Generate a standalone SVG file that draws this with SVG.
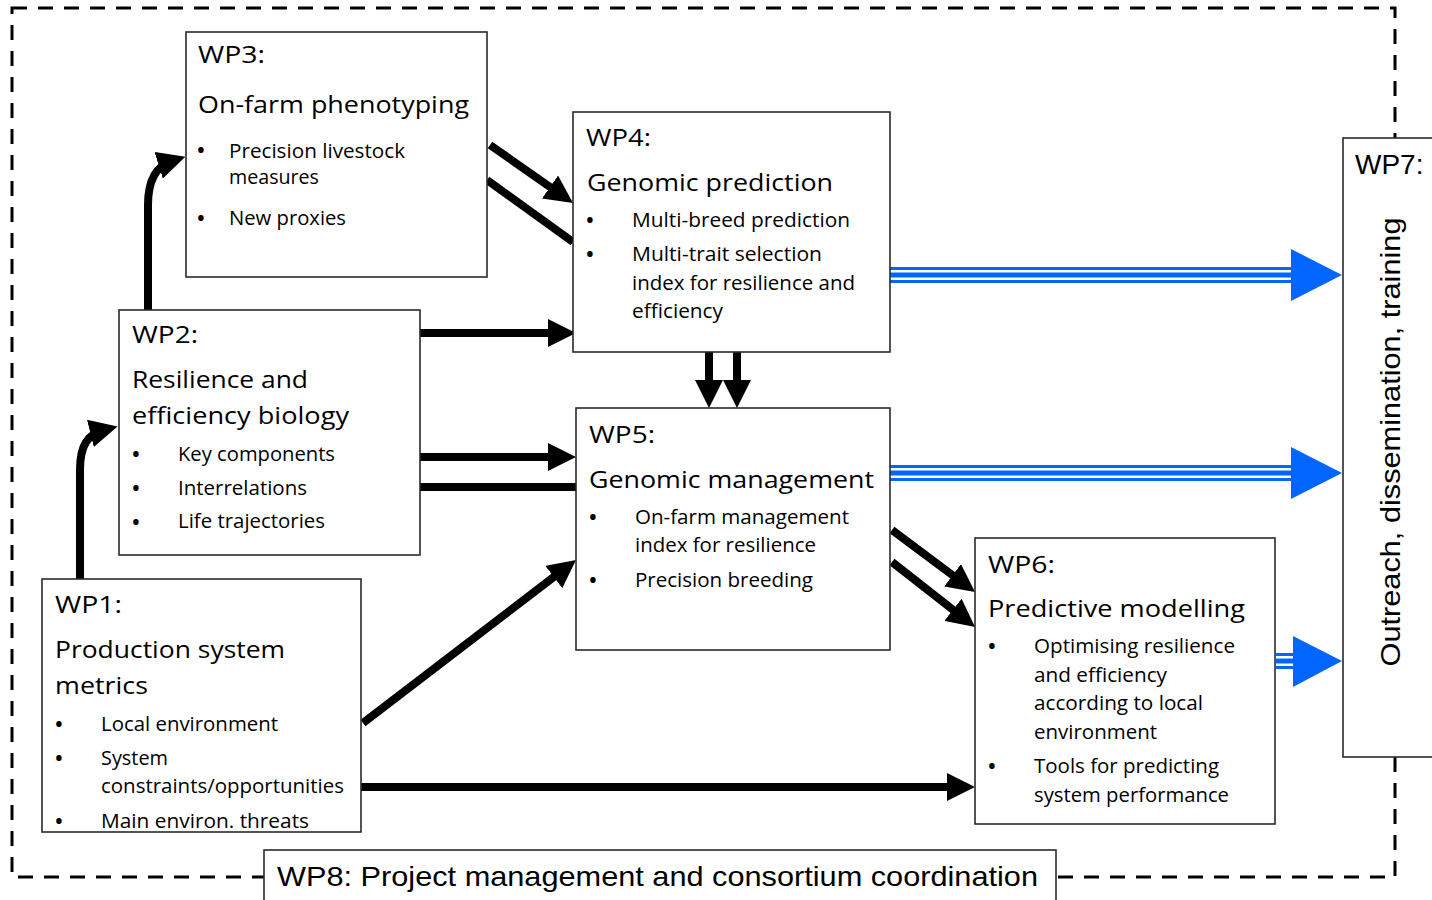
<svg xmlns="http://www.w3.org/2000/svg" width="1432" height="900" viewBox="0 0 1432 900">
<defs>
<style>
.box{fill:#fff;stroke:#2a2a2a;stroke-width:1.6}
.t{font-family:"Open Sans","Noto Sans",sans-serif;fill:#000}
.h{font-size:23.5px}
.b{font-size:19.5px}
.d{font-family:"Open Sans","Noto Sans",sans-serif;fill:#000;font-size:26px}
.a{font-family:"Liberation Sans",Arial,sans-serif;font-size:28px;fill:#000}
.k{stroke:#000;stroke-width:8;fill:none}
.bl1{stroke:#0066ff;stroke-width:16;fill:none}
.bl2{stroke:#fff;stroke-width:10;fill:none}
.bl3{stroke:#0066ff;stroke-width:5;fill:none}
.bh{fill:#0066ff}
</style>
<marker id="ah" markerUnits="userSpaceOnUse" viewBox="0 0 28 28" markerWidth="28" markerHeight="28" refX="14" refY="14" orient="auto">
<path d="M0,0 L28,14 L0,28 z" fill="#000"/>
</marker>
</defs>
<rect width="1432" height="900" fill="#fff"/>
<rect x="12" y="8" width="1383" height="869" fill="none" stroke="#000" stroke-width="3" stroke-dasharray="15 11"/>

<g id="connectors">
<path class="k" d="M80,579 L80,470 C80,445 88,434 104,430" marker-end="url(#ah)"/>
<path class="k" d="M148,310 L148,205 C148,180 156,166 172,161" marker-end="url(#ah)"/>
<line class="k" x1="490" y1="145" x2="561.5" y2="195" marker-end="url(#ah)"/>
<line class="k" x1="487" y1="180" x2="573" y2="242"/>
<line class="k" x1="420" y1="333" x2="562" y2="333" marker-end="url(#ah)"/>
<line class="k" x1="420" y1="457" x2="562" y2="457" marker-end="url(#ah)"/>
<line class="k" x1="420" y1="487" x2="576" y2="487"/>
<line class="k" x1="709" y1="352" x2="709" y2="394" marker-end="url(#ah)"/>
<line class="k" x1="737" y1="352" x2="737" y2="394" marker-end="url(#ah)"/>
<line class="k" x1="363" y1="723" x2="564.9" y2="568.5" marker-end="url(#ah)"/>
<line class="k" x1="361" y1="787" x2="961" y2="787" marker-end="url(#ah)"/>
<line class="k" x1="892" y1="530" x2="963.8" y2="583.6" marker-end="url(#ah)"/>
<line class="k" x1="892" y1="562" x2="964" y2="618.4" marker-end="url(#ah)"/>
<g>
<line class="bl1" x1="890" y1="275" x2="1294" y2="275"/>
<line class="bl2" x1="890" y1="275" x2="1294" y2="275"/>
<line class="bl3" x1="890" y1="275" x2="1294" y2="275"/>
<polygon class="bh" points="1291,249 1342,275 1291,301"/>
<line class="bl1" x1="890" y1="473" x2="1294" y2="473"/>
<line class="bl2" x1="890" y1="473" x2="1294" y2="473"/>
<line class="bl3" x1="890" y1="473" x2="1294" y2="473"/>
<polygon class="bh" points="1291,447 1342,473 1291,499"/>
<line class="bl1" x1="1276" y1="661" x2="1296" y2="661"/>
<line class="bl2" x1="1276" y1="661" x2="1296" y2="661"/>
<line class="bl3" x1="1276" y1="661" x2="1296" y2="661"/>
<polygon class="bh" points="1293,636 1342,661 1293,687"/>
</g>
</g>

<g id="wp3">
<rect class="box" x="186" y="32" width="301" height="245"/>
<text class="t h" x="198" y="63" textLength="67" lengthAdjust="spacingAndGlyphs">WP3:</text>
<text class="t h" x="198" y="113" textLength="271" lengthAdjust="spacingAndGlyphs">On-farm phenotyping</text>
<text class="d" x="196" y="159">•</text>
<text class="t b" x="229" y="158" textLength="176" lengthAdjust="spacingAndGlyphs">Precision livestock</text>
<text class="t b" x="229" y="184" textLength="90" lengthAdjust="spacingAndGlyphs">measures</text>
<text class="d" x="196" y="227">•</text>
<text class="t b" x="229" y="225" textLength="117" lengthAdjust="spacingAndGlyphs">New proxies</text>
</g>

<g id="wp4">
<rect class="box" x="573" y="112" width="317" height="240"/>
<text class="t h" x="586" y="146" textLength="65" lengthAdjust="spacingAndGlyphs">WP4:</text>
<text class="t h" x="587" y="191" textLength="246" lengthAdjust="spacingAndGlyphs">Genomic prediction</text>
<text class="d" x="585" y="229">•</text>
<text class="t b" x="632" y="227" textLength="218" lengthAdjust="spacingAndGlyphs">Multi-breed prediction</text>
<text class="d" x="585" y="263">•</text>
<text class="t b" x="632" y="261" textLength="190" lengthAdjust="spacingAndGlyphs">Multi-trait selection</text>
<text class="t b" x="632" y="290" textLength="223" lengthAdjust="spacingAndGlyphs">index for resilience and</text>
<text class="t b" x="632" y="318" textLength="91" lengthAdjust="spacingAndGlyphs">efficiency</text>
</g>

<g id="wp2">
<rect class="box" x="119" y="310" width="301" height="245"/>
<text class="t h" x="132" y="343" textLength="66" lengthAdjust="spacingAndGlyphs">WP2:</text>
<text class="t h" x="132" y="388" textLength="176" lengthAdjust="spacingAndGlyphs">Resilience and</text>
<text class="t h" x="132" y="424" textLength="217" lengthAdjust="spacingAndGlyphs">efficiency biology</text>
<text class="d" x="131" y="463">•</text>
<text class="t b" x="178" y="461" textLength="157" lengthAdjust="spacingAndGlyphs">Key components</text>
<text class="d" x="131" y="497">•</text>
<text class="t b" x="178" y="495" textLength="129" lengthAdjust="spacingAndGlyphs">Interrelations</text>
<text class="d" x="131" y="531">•</text>
<text class="t b" x="178" y="528" textLength="147" lengthAdjust="spacingAndGlyphs">Life trajectories</text>
</g>

<g id="wp5">
<rect class="box" x="576" y="408" width="314" height="242"/>
<text class="t h" x="589" y="443" textLength="66" lengthAdjust="spacingAndGlyphs">WP5:</text>
<text class="t h" x="589" y="488" textLength="285" lengthAdjust="spacingAndGlyphs">Genomic management</text>
<text class="d" x="588" y="526">•</text>
<text class="t b" x="635" y="524" textLength="214" lengthAdjust="spacingAndGlyphs">On-farm management</text>
<text class="t b" x="635" y="552" textLength="181" lengthAdjust="spacingAndGlyphs">index for resilience</text>
<text class="d" x="588" y="589">•</text>
<text class="t b" x="635" y="587" textLength="178" lengthAdjust="spacingAndGlyphs">Precision breeding</text>
</g>

<g id="wp1">
<rect class="box" x="42" y="579" width="319" height="253"/>
<text class="t h" x="55" y="613" textLength="67" lengthAdjust="spacingAndGlyphs">WP1:</text>
<text class="t h" x="55" y="658" textLength="230" lengthAdjust="spacingAndGlyphs">Production system</text>
<text class="t h" x="55" y="694" textLength="93" lengthAdjust="spacingAndGlyphs">metrics</text>
<text class="d" x="54" y="733">•</text>
<text class="t b" x="101" y="731" textLength="177" lengthAdjust="spacingAndGlyphs">Local environment</text>
<text class="d" x="54" y="767">•</text>
<text class="t b" x="101" y="765" textLength="67" lengthAdjust="spacingAndGlyphs">System</text>
<text class="t b" x="101" y="793" textLength="243" lengthAdjust="spacingAndGlyphs">constraints/opportunities</text>
<text class="d" x="54" y="830">•</text>
<text class="t b" x="101" y="828" textLength="208" lengthAdjust="spacingAndGlyphs">Main environ. threats</text>
</g>

<g id="wp6">
<rect class="box" x="975" y="538" width="300" height="286"/>
<text class="t h" x="988" y="573" textLength="67" lengthAdjust="spacingAndGlyphs">WP6:</text>
<text class="t h" x="988" y="617" textLength="257" lengthAdjust="spacingAndGlyphs">Predictive modelling</text>
<text class="d" x="987" y="655">•</text>
<text class="t b" x="1034" y="653" textLength="201" lengthAdjust="spacingAndGlyphs">Optimising resilience</text>
<text class="t b" x="1034" y="682" textLength="133" lengthAdjust="spacingAndGlyphs">and efficiency</text>
<text class="t b" x="1034" y="710" textLength="169" lengthAdjust="spacingAndGlyphs">according to local</text>
<text class="t b" x="1034" y="739" textLength="123" lengthAdjust="spacingAndGlyphs">environment</text>
<text class="d" x="987" y="775">•</text>
<text class="t b" x="1034" y="773" textLength="185" lengthAdjust="spacingAndGlyphs">Tools for predicting</text>
<text class="t b" x="1034" y="802" textLength="195" lengthAdjust="spacingAndGlyphs">system performance</text>
</g>

<g id="wp7">
<rect class="box" x="1343" y="138" width="100" height="619"/>
<text class="a" x="1355" y="174">WP7:</text>
<text class="a" transform="translate(1400,442) rotate(-90)" text-anchor="middle" textLength="449" lengthAdjust="spacingAndGlyphs">Outreach, dissemination, training</text>
</g>

<g id="wp8">
<rect class="box" x="264" y="850" width="792" height="52"/>
<text class="a" x="277" y="886" textLength="761" lengthAdjust="spacingAndGlyphs">WP8: Project management and consortium coordination</text>
</g>
</svg>
